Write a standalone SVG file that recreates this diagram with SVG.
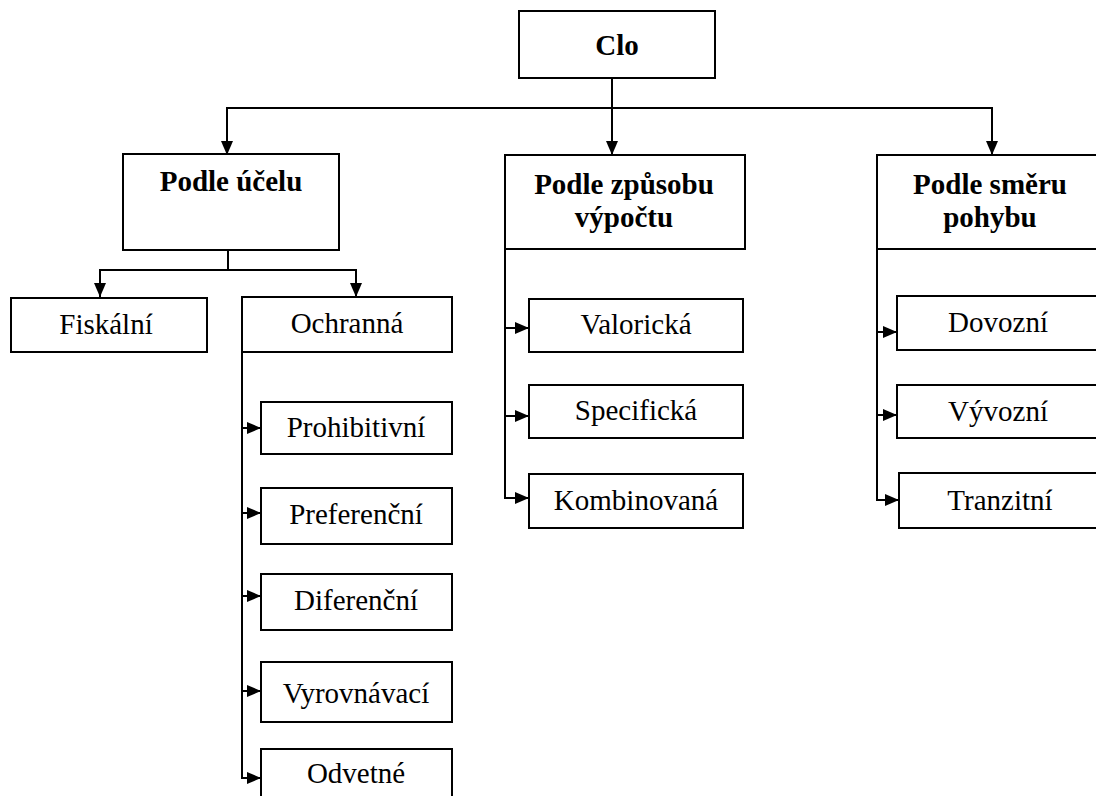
<svg xmlns="http://www.w3.org/2000/svg" width="1096" height="796" viewBox="0 0 1096 796">
<style>
.box{fill:#fff;stroke:#000;stroke-width:2}
.t{font-family:"Liberation Serif","Times New Roman",serif;font-size:29px;fill:#000;text-anchor:middle}
.b{font-weight:bold}
.c{fill:none;stroke:#000;stroke-width:2}
</style>
<defs>
<marker id="ah" viewBox="0 0 14 12" refX="14" refY="6" markerWidth="14" markerHeight="12" markerUnits="userSpaceOnUse" orient="auto">
<path d="M0,0 L14,6 L0,12 z" fill="#000"/>
</marker>
</defs>
<rect width="1096" height="796" fill="#fff"/>
<g id="connectors">
<path class="c" d="M612,78 V155" marker-end="url(#ah)"/>
<path class="c" d="M227,155 V108 H992 V155" marker-end="url(#ah)"/>
<path class="c" d="M227,108 V155" marker-end="url(#ah)"/>
<path class="c" d="M228,250 V270 H100 V297" marker-end="url(#ah)"/>
<path class="c" d="M228,270 H356 V297" marker-end="url(#ah)"/>
<path class="c" d="M242,352 V778 H261" marker-end="url(#ah)"/>
<path class="c" d="M242,428 H261" marker-end="url(#ah)"/>
<path class="c" d="M242,513 H261" marker-end="url(#ah)"/>
<path class="c" d="M242,596 H261" marker-end="url(#ah)"/>
<path class="c" d="M242,691 H261" marker-end="url(#ah)"/>
<path class="c" d="M505,249 V498 H529" marker-end="url(#ah)"/>
<path class="c" d="M505,328 H529" marker-end="url(#ah)"/>
<path class="c" d="M505,416 H529" marker-end="url(#ah)"/>
<path class="c" d="M877,249 V500 H899" marker-end="url(#ah)"/>
<path class="c" d="M877,332 H897" marker-end="url(#ah)"/>
<path class="c" d="M877,415 H897" marker-end="url(#ah)"/>
</g>
<g id="clo"><rect class="box" x="519" y="11" width="196" height="67"/><text class="t b" x="617" y="55">Clo</text></g>
<g id="ucel"><rect class="box" x="123" y="154" width="216" height="96"/><text class="t b" x="231" y="191">Podle účelu</text></g>
<g id="zpusob"><rect class="box" x="505" y="155" width="240" height="94"/><text class="t b" x="624" y="194">Podle způsobu</text><text class="t b" x="624" y="227">výpočtu</text></g>
<g id="smer"><rect class="box" x="877" y="155" width="226" height="94"/><text class="t b" x="990" y="194">Podle směru</text><text class="t b" x="990" y="227">pohybu</text></g>
<g id="fiskalni"><rect class="box" x="11" y="298" width="196" height="54"/><text class="t" x="106" y="334">Fiskální</text></g>
<g id="ochranna"><rect class="box" x="242" y="297" width="210" height="55"/><text class="t" x="347" y="333">Ochranná</text></g>
<g id="prohibitivni"><rect class="box" x="261" y="402" width="191" height="52"/><text class="t" x="356" y="437">Prohibitivní</text></g>
<g id="preferencni"><rect class="box" x="261" y="488" width="191" height="56"/><text class="t" x="356" y="524">Preferenční</text></g>
<g id="diferencni"><rect class="box" x="261" y="574" width="191" height="56"/><text class="t" x="356" y="610">Diferenční</text></g>
<g id="vyrovnavaci"><rect class="box" x="261" y="662" width="191" height="60"/><text class="t" x="356" y="703">Vyrovnávací</text></g>
<g id="odvetne"><rect class="box" x="261" y="749" width="191" height="60"/><text class="t" x="356" y="783">Odvetné</text></g>
<g id="valoricka"><rect class="box" x="529" y="299" width="214" height="53"/><text class="t" x="636" y="334">Valorická</text></g>
<g id="specificka"><rect class="box" x="529" y="385" width="214" height="53"/><text class="t" x="636" y="420">Specifická</text></g>
<g id="kombinovana"><rect class="box" x="529" y="474" width="214" height="54"/><text class="t" x="636" y="510">Kombinovaná</text></g>
<g id="dovozni"><rect class="box" x="897" y="296" width="204" height="54"/><text class="t" x="998" y="332">Dovozní</text></g>
<g id="vyvozni"><rect class="box" x="897" y="385" width="204" height="53"/><text class="t" x="998" y="421">Vývozní</text></g>
<g id="tranzitni"><rect class="box" x="899" y="473" width="204" height="55"/><text class="t" x="1000" y="510">Tranzitní</text></g>
</svg>
